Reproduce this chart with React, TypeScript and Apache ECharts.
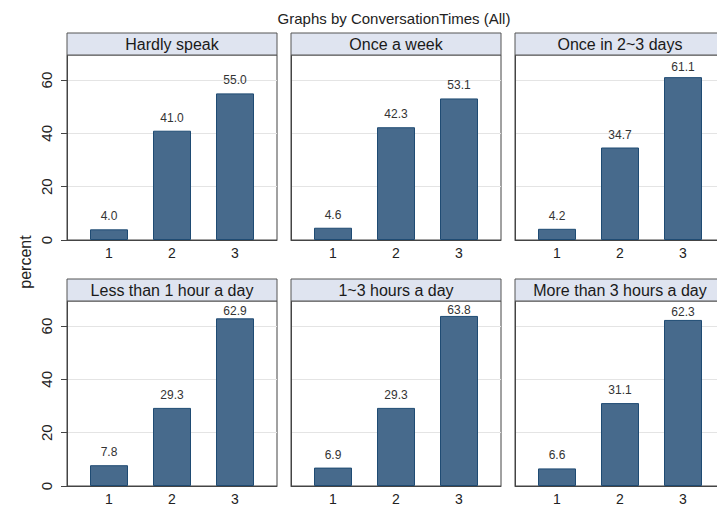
import React, { useEffect, useRef } from "react";
import * as echarts from "echarts";

// Panel titles, in reading order (row by row)
const PANEL_TITLES = [
  "Hardly speak",
  "Once a week",
  "Once in 2~3 days",
  "Less than 1 hour a day",
  "1~3 hours a day",
  "More than 3 hours a day",
];

// Bar positions on the x axis and their tick labels
const X_POSITIONS = [1, 2, 3];
const X_LABELS = ["1", "2", "3"];

// Percent per group within each panel
const hardlySpeak = [4.0, 41.0, 55.0];
const onceAWeek = [4.6, 42.3, 53.1];
const onceIn2to3Days = [4.2, 34.7, 61.1];
const lessThan1HourADay = [7.8, 29.3, 62.9];
const oneToThreeHoursADay = [6.9, 29.3, 63.8];
const moreThan3HoursADay = [6.6, 31.1, 62.3];

const PANEL_VALUES = [
  hardlySpeak,
  onceAWeek,
  onceIn2to3Days,
  lessThan1HourADay,
  oneToThreeHoursADay,
  moreThan3HoursADay,
];

const Y_TICKS = [0, 20, 40, 60];
const Y_MAX = 69.4;

const TITLE = "Graphs by ConversationTimes (All)";
const Y_TITLE = "percent";

const FONT = "'Liberation Sans', Arial, Helvetica, sans-serif";

// Layout of the 3x2 panel grid (pixels); the last column runs past the right edge
const COL_LEFT = [67, 291, 515];
const PLOT_W = 210;
const HEADER_TOP = [33, 279];
const HEADER_H = 22;
const PLOT_H = 185;

export default function App() {
  const ref = useRef<HTMLDivElement>(null);

  useEffect(() => {
    if (!ref.current) return;
    const chart = echarts.init(ref.current, null, { renderer: "svg" });

    const grids: any[] = [];
    const xAxes: any[] = [];
    const yAxes: any[] = [];
    const series: any[] = [];
    const graphics: any[] = [];

    const pxPerUnit = PLOT_H / Y_MAX;
    // Value labels sit above the bar, tucked in closer when the bar nearly fills the panel
    const labelDistance = (v: number) => {
      const room = (Y_MAX - v) * pxPerUnit;
      return Math.min(7, Math.max(0, (room - 15) * 0.6));
    };

    PANEL_VALUES.forEach((vals, i) => {
      const col = i % 3;
      const row = Math.floor(i / 3);
      const left = COL_LEFT[col];
      const top = HEADER_TOP[row] + HEADER_H;

      grids.push({
        left,
        top,
        width: PLOT_W,
        height: PLOT_H,
        outerBoundsMode: "none",
        containLabel: false,
        show: true,
        backgroundColor: "#ffffff",
        borderColor: "#444444",
        borderWidth: 1,
      });

      xAxes.push({
        type: "value",
        gridIndex: i,
        min: 1 / 3,
        max: 11 / 3,
        axisLine: { show: true, lineStyle: { color: "#444444", width: 1 } },
        axisTick: { show: false },
        splitLine: { show: false },
        axisLabel: {
          customValues: X_POSITIONS,
          formatter: (v: number) => X_LABELS[X_POSITIONS.indexOf(Math.round(v))] ?? "",
          fontFamily: FONT,
          fontSize: 14,
          lineHeight: 12,
          color: "#222222",
          margin: 7,
        },
      });

      yAxes.push({
        type: "value",
        gridIndex: i,
        min: 0,
        max: Y_MAX,
        axisLine: { show: true, lineStyle: { color: "#444444", width: 1 } },
        axisTick: {
          show: col === 0,
          customValues: Y_TICKS,
          length: 6,
          lineStyle: { color: "#444444" },
        },
        splitLine: {
          show: true,
          lineStyle: { color: "#e4e4e4", width: 1.2 },
        },
        axisLabel: {
          show: col === 0,
          customValues: Y_TICKS,
          rotate: 90,
          fontFamily: FONT,
          fontSize: 15,
          color: "#222222",
          margin: 13,
        },
      });

      series.push({
        type: "bar",
        xAxisIndex: i,
        yAxisIndex: i,
        barWidth: 38,
        itemStyle: {
          color: "#476a8c",
          borderColor: "#1f4b73",
          borderWidth: 1,
        },
        data: vals.map((v, k) => ({
          value: [X_POSITIONS[k], v],
          label: {
            show: true,
            position: "top",
            distance: labelDistance(v),
            formatter: v.toFixed(1),
            fontFamily: FONT,
            fontSize: 12,
            color: "#333333",
          },
        })),
      });

      // Panel header strip
      graphics.push({
        type: "rect",
        shape: { x: left, y: HEADER_TOP[row], width: PLOT_W, height: HEADER_H },
        style: { fill: "#dfe4f0", stroke: "#555555", lineWidth: 1 },
        z: 10,
      });
      graphics.push({
        type: "text",
        x: left + PLOT_W / 2,
        y: HEADER_TOP[row] + HEADER_H / 2 + 0.5,
        style: {
          text: PANEL_TITLES[i],
          fontFamily: FONT,
          fontSize: 16,
          fill: "#1a1a1a",
          align: "center",
          verticalAlign: "middle",
        },
        z: 11,
      });
    });

    graphics.push({
      type: "text",
      x: 394,
      y: 18,
      style: {
        text: TITLE,
        fontFamily: FONT,
        fontSize: 15,
        fill: "#222222",
        align: "center",
        verticalAlign: "middle",
      },
    });
    graphics.push({
      type: "text",
      x: 25,
      y: 262,
      rotation: Math.PI / 2,
      style: {
        text: Y_TITLE,
        fontFamily: FONT,
        fontSize: 16,
        fill: "#222222",
        align: "center",
        verticalAlign: "middle",
      },
    });

    chart.setOption({
      animation: false,
      backgroundColor: "#ffffff",
      grid: grids,
      xAxis: xAxes,
      yAxis: yAxes,
      series,
      graphic: graphics,
    });

    return () => chart.dispose();
  }, []);

  return (
    <div
      ref={ref}
      style={{ position: "fixed", left: 0, top: 0, width: 717, height: 506 }}
    />
  );
}
